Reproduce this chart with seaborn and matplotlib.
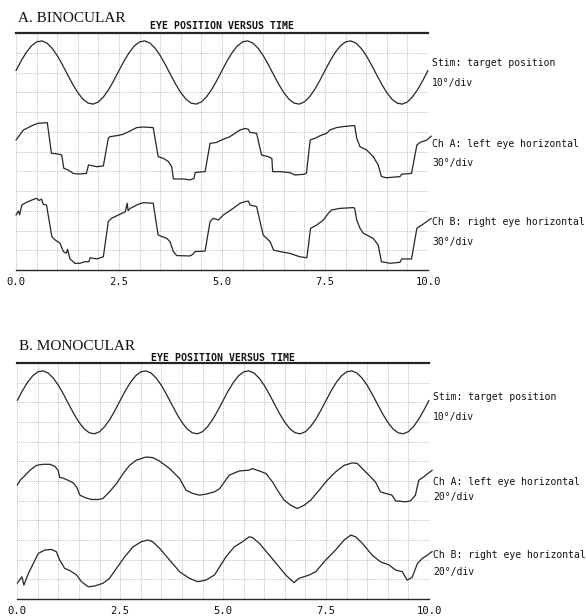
import numpy as np
import pandas as pd
import matplotlib
matplotlib.use("Agg")
import matplotlib.pyplot as plt
import seaborn as sns

# time base for the stimulus trace (seconds)
stim_t = np.linspace(0, 10, 81)
# target position, in grid divisions
stim_y = [10.1, 10.59, 11.02, 11.35, 11.55, 11.6, 11.49, 11.23, 10.86, 10.4,
          9.9, 9.41, 8.98, 8.65, 8.45, 8.4, 8.51, 8.77, 9.14, 9.6,
          10.1, 10.59, 11.02, 11.35, 11.55, 11.6, 11.49, 11.23, 10.86, 10.4,
          9.9, 9.41, 8.98, 8.65, 8.45, 8.4, 8.51, 8.77, 9.14, 9.6,
          10.1, 10.59, 11.02, 11.35, 11.55, 11.6, 11.49, 11.23, 10.86, 10.4,
          9.9, 9.41, 8.98, 8.65, 8.45, 8.4, 8.51, 8.77, 9.14, 9.6,
          10.1, 10.59, 11.02, 11.35, 11.55, 11.6, 11.49, 11.23, 10.86, 10.4,
          9.9, 9.41, 8.98, 8.65, 8.45, 8.4, 8.51, 8.77, 9.14, 9.6, 10.1]

# A. binocular - left eye
bin_a_t = [0, 0.18, 0.42, 0.54, 0.76, 0.86, 1.0, 1.11, 1.16, 1.27, 1.39, 1.51, 1.71, 1.76,
           1.96, 2.12, 2.24, 2.28, 2.44, 2.6, 2.77, 2.93, 3.09, 3.33, 3.45, 3.58, 3.70, 3.78,
           3.82, 4.06, 4.22, 4.32, 4.35, 4.59, 4.71, 4.87, 4.95, 5.19, 5.44, 5.56, 5.64, 5.68,
           5.84, 5.96, 6.12, 6.21, 6.23, 6.41, 6.65, 6.77, 7.01, 7.05, 7.14, 7.26, 7.38, 7.54,
           7.62, 7.78, 7.94, 8.19, 8.22, 8.27, 8.35, 8.51, 8.67, 8.79, 8.87, 8.99, 9.32, 9.36,
           9.60, 9.73, 9.81, 9.97, 10.08]
bin_a_y = [6.58, 7.09, 7.34, 7.43, 7.46, 5.91, 5.88, 5.82, 5.15, 5.06, 4.89, 4.86, 4.89, 5.32,
           5.23, 5.27, 6.67, 6.75, 6.8, 6.87, 7.04, 7.21, 7.24, 7.21, 5.74, 5.65, 5.49, 5.23,
           4.61, 4.61, 4.56, 4.64, 4.94, 4.98, 6.41, 6.46, 6.55, 6.75, 7.09, 7.17, 7.12, 6.97,
           6.92, 5.82, 5.74, 5.65, 4.98, 4.98, 4.93, 4.81, 4.85, 4.92, 6.58, 6.67, 6.8, 6.92,
           7.09, 7.21, 7.26, 7.31, 7.31, 6.67, 6.24, 6.08, 5.74, 5.32, 4.73, 4.67, 4.73, 4.85,
           4.89, 6.33, 6.46, 6.58, 6.78]

# A. binocular - right eye
bin_b_t = [0, 0.06, 0.09, 0.14, 0.26, 0.38, 0.5, 0.56, 0.62, 0.66, 0.74, 0.87, 0.95, 1.07,
           1.15, 1.22, 1.25, 1.31, 1.43, 1.55, 1.67, 1.77, 1.80, 1.96, 2.12, 2.24, 2.32, 2.48,
           2.65, 2.70, 2.72, 2.77, 2.97, 3.09, 3.33, 3.45, 3.66, 3.74, 3.82, 3.90, 4.22, 4.30,
           4.34, 4.59, 4.71, 4.79, 4.91, 5.03, 5.15, 5.27, 5.44, 5.56, 5.64, 5.68, 5.84, 6.0,
           6.17, 6.25, 6.41, 6.65, 6.89, 7.06, 7.15, 7.30, 7.46, 7.58, 7.66, 7.86, 8.19, 8.22,
           8.27, 8.35, 8.43, 8.67, 8.79, 8.87, 9.08, 9.32, 9.36, 9.60, 9.73, 9.85, 9.97, 10.08]
bin_b_y = [2.78, 2.99, 2.8, 3.29, 3.43, 3.54, 3.63, 3.52, 3.59, 3.33, 3.29, 1.69, 1.52, 1.35,
           0.93, 0.85, 1.05, 0.56, 0.34, 0.34, 0.42, 0.42, 0.62, 0.56, 0.67, 2.45, 2.62, 2.78,
           2.95, 3.38, 3.0, 3.12, 3.33, 3.41, 3.38, 1.77, 1.6, 1.43, 0.93, 0.73, 0.71, 0.8,
           0.93, 0.96, 2.45, 2.62, 2.53, 2.78, 2.95, 3.12, 3.38, 3.46, 3.49, 3.29, 3.21, 1.77,
           1.43, 1.01, 0.93, 0.84, 0.67, 0.62, 2.11, 2.28, 2.53, 2.87, 3.04, 3.12, 3.16, 3.12,
           2.53, 2.11, 1.86, 1.60, 1.27, 0.42, 0.34, 0.39, 0.56, 0.56, 2.11, 2.28, 2.45, 2.62]

# B. monocular - left eye
mon_a_t = [0, 0.07, 0.19, 0.31, 0.47, 0.63, 0.79, 0.91, 0.99, 1.03, 1.11, 1.23, 1.36, 1.44,
           1.52, 1.64, 1.8, 1.97, 2.08, 2.24, 2.41, 2.57, 2.73, 2.89, 3.13, 3.29, 3.45, 3.70,
           3.94, 4.10, 4.26, 4.42, 4.58, 4.79, 4.91, 5.03, 5.15, 5.39, 5.63, 5.71, 5.88, 6.04,
           6.20, 6.32, 6.48, 6.64, 6.80, 6.97, 7.13, 7.33, 7.53, 7.73, 7.94, 8.14, 8.26, 8.38,
           8.50, 8.70, 8.82, 8.94, 9.10, 9.19, 9.43, 9.55, 9.67, 9.75, 9.87, 9.97, 10.08]
mon_a_y = [5.79, 6.04, 6.29, 6.55, 6.8, 6.85, 6.85, 6.75, 6.55, 6.18, 6.15, 6.04, 5.9, 5.7,
           5.28, 5.16, 5.06, 5.06, 5.11, 5.45, 5.87, 6.38, 6.8, 7.06, 7.22, 7.19, 7.02, 6.63,
           6.13, 5.53, 5.37, 5.28, 5.33, 5.45, 5.6, 5.95, 6.3, 6.51, 6.55, 6.63, 6.51, 6.38,
           5.95, 5.53, 5.03, 4.77, 4.6, 4.77, 5.03, 5.53, 6.04, 6.46, 6.8, 6.92, 6.89, 6.63,
           6.38, 5.95, 5.45, 5.37, 5.28, 4.99, 4.94, 4.99, 5.28, 6.04, 6.21, 6.38, 6.55]

# B. monocular - right eye
mon_b_t = [0, 0.11, 0.16, 0.27, 0.39, 0.51, 0.67, 0.83, 0.95, 1.03, 1.15, 1.28, 1.44, 1.56,
           1.72, 1.88, 2.08, 2.24, 2.41, 2.61, 2.81, 3.01, 3.17, 3.29, 3.46, 3.70, 3.94, 4.18,
           4.38, 4.58, 4.79, 4.95, 5.07, 5.27, 5.47, 5.63, 5.71, 5.88, 6.12, 6.32, 6.52, 6.72,
           6.84, 7.09, 7.25, 7.49, 7.73, 7.94, 8.10, 8.22, 8.38, 8.62, 8.82, 9.03, 9.19, 9.35,
           9.47, 9.59, 9.72, 9.84, 9.96, 10.08]
mon_b_y = [0.8, 1.13, 0.71, 1.3, 1.81, 2.32, 2.49, 2.52, 2.4, 1.98, 1.56, 1.44, 1.22, 0.88,
           0.62, 0.66, 0.8, 1.05, 1.56, 2.15, 2.65, 2.91, 3.0, 2.91, 2.57, 1.98, 1.39, 1.05,
           0.88, 0.96, 1.22, 1.75, 2.15, 2.65, 2.91, 3.16, 3.13, 2.83, 2.23, 1.73, 1.22, 0.83,
           1.05, 1.22, 1.39, 1.98, 2.49, 3.0, 3.25, 3.16, 2.83, 2.23, 1.89, 1.73, 1.47, 1.39,
           0.96, 1.1, 1.81, 2.07, 2.23, 2.42]

tick_pos = [0, 2.5, 5, 7.5, 10]
tick_labels = ["0.0", "2.5", "5.0", "7.5", "10.0"]
titles = ["A. BINOCULAR", "B. MONOCULAR"]
chart_title = "EYE POSITION VERSUS TIME"
stim_label = ["Stim: target position", "10°/div"]
cha_label = ["Ch A: left eye horizontal", "30°/div", "20°/div"]
chb_label = ["Ch B: right eye horizontal", "30°/div", "20°/div"]

sns.set_style("white")
MONO = ["DejaVu Sans Mono"]
SERIF = ["Liberation Serif", "DejaVu Serif"]
W, H = 586, 616
INK = "#262626"
TXT = "#111111"
FS = 7.0

fig = plt.figure(figsize=(W / 100, H / 100), dpi=100)


def px(x, y):
    return x / W, 1 - y / H


def draw_panel(rect, traces, title, ypx, labels_y, scale):
    left, top, right, bottom = rect
    ax = fig.add_axes([left / W, 1 - bottom / H, (right - left) / W, (bottom - top) / H])
    for t, y in traces:
        df = pd.DataFrame({"t": t, "y": y})
        sns.lineplot(data=df, x="t", y="y", ax=ax, color=INK, lw=0.9,
                     estimator=None, sort=False, clip_on=False)
    ax.set_xlim(0, 10)
    ax.set_ylim(0, 12)
    ax.set_xlabel("")
    ax.set_ylabel("")
    ax.set_xticks(tick_pos)
    ax.set_xticklabels(tick_labels, family=MONO, fontsize=7.6)
    ax.set_xticks(np.arange(0, 10.01, 0.5), minor=True)
    ax.set_yticks(range(13))
    ax.set_yticklabels([])
    ax.tick_params(axis="x", which="major", direction="in", length=5, width=0.9,
                   color=INK, pad=5, labelcolor=TXT)
    ax.tick_params(axis="x", which="minor", length=0)
    ax.tick_params(axis="y", length=0)
    ax.grid(which="both", color="#b0b0b0", lw=0.6, ls=(0, (1, 1.2)))
    for s in ["left", "right"]:
        ax.spines[s].set_visible(False)
    ax.spines["top"].set_linewidth(1.6)
    ax.spines["top"].set_color(INK)
    ax.spines["bottom"].set_linewidth(1.0)
    ax.spines["bottom"].set_color(INK)

    fig.text(*px(left + 2, ypx[0]), title, family=SERIF, fontsize=11,
             va="center", ha="left", color=TXT)
    fig.text(*px((left + right) / 2, ypx[1]), chart_title, family=MONO,
             fontsize=7.1, va="center", ha="center", color=TXT, weight="bold")

    lx = right + 4
    ys = labels_y
    lines = [stim_label[0], stim_label[1], cha_label[0], cha_label[scale],
             chb_label[0], chb_label[scale]]
    for txt, yy in zip(lines, ys):
        fig.text(*px(lx, yy), txt, family=MONO, fontsize=FS, va="center", color=TXT)
    return ax


draw_panel((16, 33, 428, 270),
           [(stim_t, stim_y), (bin_a_t, bin_a_y), (bin_b_t, bin_b_y)],
           titles[0], (18, 26), (63, 83, 144, 163, 222, 242), 1)
draw_panel((17.3, 363, 429, 599),
           [(stim_t, stim_y), (mon_a_t, mon_a_y), (mon_b_t, mon_b_y)],
           titles[1], (346, 358), (397, 417, 482, 497, 555, 572), 2)

fig.savefig("out.png", dpi=100)
